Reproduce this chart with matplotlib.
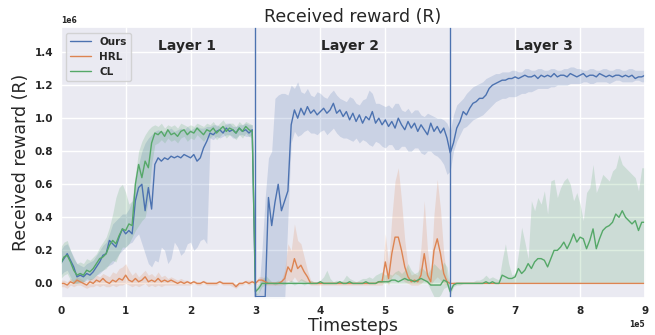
import numpy as np
import matplotlib
matplotlib.use("Agg")
import matplotlib.pyplot as plt
import seaborn as sns

# Rewards are written in millions (x 1e6); one sample every 5,000 timesteps.
timesteps = np.arange(0, 900001, 5000)

ours_mean = [
    0.12, 0.15, 0.18, 0.14, 0.10, 0.04, 0.05, 0.04, 0.06, 0.05, 0.07, 0.10, 0.13, 0.17, 0.18, 0.26, 0.24, 0.22, 0.28, 0.33,
    0.30, 0.32, 0.30, 0.50, 0.58, 0.60, 0.44, 0.58, 0.45, 0.72, 0.76, 0.74, 0.76, 0.75, 0.77, 0.76, 0.77, 0.76, 0.78, 0.77,
    0.76, 0.78, 0.74, 0.76, 0.82, 0.86, 0.91, 0.90, 0.92, 0.93, 0.91, 0.94, 0.92, 0.93, 0.91, 0.94, 0.92, 0.93, 0.91, 0.93,
    -0.08, -0.08, -0.08, -0.08, 0.52, 0.35, 0.49, 0.60, 0.44, 0.50, 0.56, 0.96, 1.05, 1.00, 1.06, 1.02, 1.07, 1.03, 1.05, 1.02,
    1.04, 1.06, 1.03, 1.05, 1.09, 1.03, 1.05, 1.01, 1.04, 0.99, 1.03, 0.98, 1.02, 0.97, 1.01, 0.99, 1.04, 0.97, 1.00, 0.96,
    0.99, 0.95, 0.98, 0.94, 1.00, 0.96, 0.93, 0.98, 0.94, 0.97, 0.92, 0.96, 0.93, 0.90, 0.97, 0.92, 0.95, 0.91, 0.94, 0.88,
    0.79, 0.85, 0.94, 0.98, 1.04, 1.02, 1.06, 1.09, 1.10, 1.12, 1.12, 1.14, 1.18, 1.20, 1.21, 1.22, 1.23, 1.23, 1.24, 1.24,
    1.25, 1.24, 1.25, 1.26, 1.25, 1.25, 1.26, 1.24, 1.26, 1.25, 1.26, 1.25, 1.27, 1.25, 1.26, 1.26, 1.25, 1.27, 1.26, 1.25,
    1.26, 1.27, 1.25, 1.26, 1.26, 1.25, 1.27, 1.26, 1.25, 1.26, 1.25, 1.26, 1.26, 1.25, 1.26, 1.25, 1.26, 1.24, 1.25, 1.25,
    1.26,
]
ours_lo = [
    0.05, 0.07, 0.08, 0.04, 0.00, 0.00, 0.00, 0.01, 0.02, 0.02, 0.03, 0.05, 0.06, 0.08, 0.10, 0.11, 0.12, 0.15, 0.18, 0.20,
    0.22, 0.24, 0.25, 0.28, 0.30, 0.24, 0.18, 0.12, 0.10, 0.14, 0.13, 0.22, 0.20, 0.12, 0.15, 0.25, 0.22, 0.17, 0.19, 0.24,
    0.25, 0.20, 0.22, 0.26, 0.27, 0.24, 0.88, 0.87, 0.89, 0.88, 0.89, 0.90, 0.90, 0.88, 0.88, 0.90, 0.90, 0.89, 0.89, 0.90,
    -0.09, -0.09, -0.09, -0.10, -0.10, -0.10, -0.10, -0.10, -0.10, -0.10, 0.40, 0.85, 0.92, 0.89, 0.90, 0.92, 0.93, 0.91, 0.91, 0.90,
    0.92, 0.93, 0.90, 0.92, 0.94, 0.91, 0.89, 0.88, 0.88, 0.87, 0.86, 0.88, 0.85, 0.87, 0.86, 0.84, 0.83, 0.86, 0.85, 0.83,
    0.82, 0.84, 0.84, 0.81, 0.81, 0.83, 0.83, 0.80, 0.80, 0.82, 0.82, 0.79, 0.78, 0.80, 0.80, 0.78, 0.77, 0.75, 0.72, 0.66,
    0.68, 0.80, 0.86, 0.90, 0.94, 0.95, 0.97, 0.99, 1.00, 1.01, 1.02, 1.04, 1.06, 1.08, 1.10, 1.11, 1.12, 1.12, 1.13, 1.13,
    1.13, 1.14, 1.15, 1.15, 1.16, 1.16, 1.17, 1.18, 1.18, 1.18, 1.18, 1.19, 1.19, 1.20, 1.20, 1.20, 1.20, 1.21, 1.21, 1.21,
    1.21, 1.22, 1.22, 1.21, 1.21, 1.22, 1.22, 1.22, 1.22, 1.21, 1.22, 1.23, 1.23, 1.22, 1.22, 1.22, 1.22, 1.23, 1.23, 1.22,
    1.22,
]
ours_hi = [
    0.20, 0.23, 0.24, 0.20, 0.16, 0.12, 0.11, 0.10, 0.12, 0.13, 0.14, 0.17, 0.20, 0.23, 0.25, 0.30, 0.36, 0.38, 0.40, 0.42,
    0.42, 0.45, 0.50, 0.62, 0.72, 0.80, 0.85, 0.88, 0.90, 0.92, 0.93, 0.92, 0.92, 0.93, 0.94, 0.92, 0.93, 0.94, 0.93, 0.95,
    0.93, 0.94, 0.95, 0.94, 0.94, 0.95, 0.95, 0.96, 0.96, 0.95, 0.95, 0.97, 0.97, 0.95, 0.95, 0.96, 0.96, 0.97, 0.96, 0.96,
    -0.06, -0.06, 0.20, 0.52, 0.76, 0.80, 1.12, 1.14, 1.15, 1.15, 1.14, 1.20, 1.18, 1.22, 1.16, 1.15, 1.18, 1.14, 1.13, 1.16,
    1.15, 1.13, 1.12, 1.15, 1.17, 1.14, 1.12, 1.11, 1.10, 1.13, 1.12, 1.09, 1.08, 1.11, 1.12, 1.17, 1.15, 1.09, 1.09, 1.08,
    1.07, 1.08, 1.06, 1.09, 1.09, 1.05, 1.04, 1.06, 1.03, 1.05, 1.05, 1.02, 1.01, 1.03, 1.02, 1.01, 1.00, 1.00, 0.99, 0.97,
    0.92, 1.02, 1.08, 1.10, 1.12, 1.15, 1.17, 1.19, 1.20, 1.21, 1.22, 1.24, 1.25, 1.26, 1.27, 1.27, 1.28, 1.28, 1.28, 1.29,
    1.29, 1.28, 1.28, 1.30, 1.30, 1.29, 1.29, 1.30, 1.30, 1.29, 1.29, 1.30, 1.30, 1.29, 1.29, 1.30, 1.30, 1.31, 1.31, 1.30,
    1.30, 1.29, 1.29, 1.30, 1.30, 1.29, 1.29, 1.30, 1.30, 1.29, 1.29, 1.30, 1.30, 1.29, 1.29, 1.30, 1.30, 1.29, 1.29, 1.29,
    1.29,
]

hrl_mean = [
    0.00, 0.00, -0.01, 0.01, 0.00, 0.02, 0.01, 0.00, -0.01, 0.01, 0.00, 0.02, 0.01, 0.03, 0.01, 0.00, 0.02, 0.01, 0.03, 0.02,
    0.05, 0.02, 0.01, 0.03, 0.01, 0.02, 0.04, 0.01, 0.02, 0.01, 0.03, 0.01, 0.02, 0.01, 0.02, 0.01, 0.00, 0.01, 0.00, 0.01,
    0.00, 0.01, 0.00, 0.00, 0.01, 0.00, 0.00, 0.00, 0.00, 0.01, 0.00, 0.00, 0.00, 0.00, -0.02, 0.00, 0.00, 0.01, 0.00, 0.01,
    0.00, 0.02, 0.02, 0.01, 0.00, 0.00, 0.00, 0.00, 0.01, 0.03, 0.10, 0.07, 0.15, 0.09, 0.11, 0.07, 0.04, 0.00, 0.00, 0.00,
    0.00, 0.00, 0.00, 0.00, 0.00, 0.00, 0.00, 0.00, 0.00, 0.00, 0.00, 0.00, 0.00, 0.00, 0.00, 0.00, 0.00, 0.00, 0.01, 0.01,
    0.13, 0.03, 0.18, 0.28, 0.28, 0.20, 0.10, 0.04, 0.01, 0.02, 0.01, 0.05, 0.18, 0.05, 0.01, 0.20, 0.27, 0.18, 0.06, 0.01,
    0.00, 0.00, 0.00, 0.00, 0.00, 0.00, 0.00, 0.00, 0.00, 0.00, 0.00, 0.00, 0.00, 0.00, 0.00, 0.00, 0.00, 0.00, 0.00, 0.00,
    0.00, 0.00, 0.00, 0.00, 0.00, 0.00, 0.00, 0.00, 0.00, 0.00, 0.00, 0.00, 0.00, 0.00, 0.00, 0.00, 0.00, 0.00, 0.00, 0.00,
    0.00, 0.00, 0.00, 0.00, 0.00, 0.00, 0.00, 0.00, 0.00, 0.00, 0.00, 0.00, 0.00, 0.00, 0.00, 0.00, 0.00, 0.00, 0.00, 0.00,
    0.00,
]
hrl_lo = [
    -0.02, -0.02, -0.03, -0.01, -0.02, -0.01, -0.01, -0.02, -0.03, -0.02, -0.02, -0.01, -0.02, -0.01, -0.02, -0.02, -0.01, -0.02, -0.01, -0.01,
    0.00, -0.01, -0.02, -0.01, -0.02, -0.01, 0.00, -0.02, -0.01, -0.02, -0.01, -0.02, -0.01, -0.01, -0.01, -0.01, -0.01, -0.01, -0.01, -0.01,
    -0.01, 0.00, -0.01, -0.01, 0.00, -0.01, -0.01, -0.01, -0.01, 0.00, -0.01, -0.01, -0.01, -0.02, -0.03, -0.01, -0.01, 0.00, -0.01, 0.00,
    -0.01, 0.00, 0.00, -0.01, -0.01, -0.01, -0.01, -0.01, -0.01, 0.00, 0.02, 0.01, 0.04, 0.01, 0.02, 0.01, 0.00, -0.01, -0.01, -0.01,
    -0.01, -0.01, -0.01, -0.01, -0.01, -0.01, -0.01, -0.01, -0.01, -0.01, -0.01, -0.01, -0.01, -0.01, -0.01, -0.01, -0.01, -0.01, -0.01, -0.01,
    0.02, -0.01, 0.04, 0.06, 0.05, 0.03, 0.01, 0.00, -0.01, -0.01, -0.01, 0.00, 0.02, 0.00, -0.01, 0.02, 0.04, 0.02, 0.00, -0.01,
    0.00, 0.00, 0.00, 0.00, 0.00, 0.00, 0.00, 0.00, 0.00, 0.00, 0.00, 0.00, 0.00, 0.00, 0.00, 0.00, 0.00, 0.00, 0.00, 0.00,
    0.00, 0.00, 0.00, 0.00, 0.00, 0.00, 0.00, 0.00, 0.00, 0.00, 0.00, 0.00, 0.00, 0.00, 0.00, 0.00, 0.00, 0.00, 0.00, 0.00,
    0.00, 0.00, 0.00, 0.00, 0.00, 0.00, 0.00, 0.00, 0.00, 0.00, 0.00, 0.00, 0.00, 0.00, 0.00, 0.00, 0.00, 0.00, 0.00, 0.00,
    0.00,
]
hrl_hi = [
    0.02, 0.02, 0.01, 0.03, 0.02, 0.04, 0.03, 0.02, 0.01, 0.03, 0.03, 0.05, 0.04, 0.06, 0.05, 0.04, 0.07, 0.06, 0.09, 0.10,
    0.12, 0.08, 0.05, 0.07, 0.04, 0.06, 0.08, 0.05, 0.06, 0.04, 0.07, 0.04, 0.05, 0.03, 0.04, 0.03, 0.02, 0.03, 0.02, 0.02,
    0.01, 0.02, 0.01, 0.01, 0.02, 0.01, 0.01, 0.01, 0.01, 0.02, 0.01, 0.01, 0.01, 0.01, 0.00, 0.01, 0.01, 0.02, 0.02, 0.02,
    0.01, 0.04, 0.04, 0.03, 0.01, 0.01, 0.01, 0.01, 0.02, 0.08, 0.24, 0.20, 0.36, 0.26, 0.24, 0.16, 0.08, 0.02, 0.01, 0.01,
    0.01, 0.01, 0.01, 0.01, 0.01, 0.01, 0.01, 0.01, 0.01, 0.01, 0.01, 0.01, 0.01, 0.01, 0.01, 0.01, 0.01, 0.01, 0.02, 0.03,
    0.30, 0.12, 0.40, 0.62, 0.70, 0.50, 0.26, 0.10, 0.05, 0.06, 0.05, 0.22, 0.50, 0.20, 0.06, 0.42, 0.63, 0.45, 0.18, 0.04,
    0.00, 0.00, 0.00, 0.00, 0.00, 0.00, 0.00, 0.00, 0.00, 0.00, 0.00, 0.00, 0.00, 0.00, 0.00, 0.00, 0.00, 0.00, 0.00, 0.00,
    0.00, 0.00, 0.00, 0.00, 0.00, 0.00, 0.00, 0.00, 0.00, 0.00, 0.00, 0.00, 0.00, 0.00, 0.00, 0.00, 0.00, 0.00, 0.00, 0.00,
    0.00, 0.00, 0.00, 0.00, 0.00, 0.00, 0.00, 0.00, 0.00, 0.00, 0.00, 0.00, 0.00, 0.00, 0.00, 0.00, 0.00, 0.00, 0.00, 0.00,
    0.00,
]

cl_mean = [
    0.12, 0.16, 0.17, 0.13, 0.08, 0.05, 0.06, 0.05, 0.08, 0.07, 0.09, 0.12, 0.15, 0.16, 0.18, 0.23, 0.26, 0.24, 0.29, 0.33,
    0.32, 0.36, 0.35, 0.60, 0.72, 0.64, 0.74, 0.70, 0.85, 0.91, 0.90, 0.92, 0.89, 0.93, 0.90, 0.91, 0.89, 0.92, 0.93, 0.90,
    0.92, 0.91, 0.94, 0.92, 0.90, 0.93, 0.92, 0.94, 0.91, 0.93, 0.95, 0.92, 0.94, 0.93, 0.91, 0.94, 0.92, 0.95, 0.93, 0.92,
    -0.05, -0.03, 0.00, 0.00, 0.00, 0.00, 0.00, 0.00, 0.00, 0.00, 0.00, 0.00, 0.00, 0.00, 0.00, 0.00, 0.00, 0.00, 0.00, 0.00,
    0.01, 0.00, 0.00, 0.00, 0.00, 0.00, 0.01, 0.00, 0.00, 0.01, 0.00, 0.00, 0.00, 0.00, 0.01, 0.00, 0.00, 0.00, 0.01, 0.01,
    0.01, 0.01, 0.02, 0.02, 0.01, 0.02, 0.03, 0.02, 0.02, 0.01, 0.02, 0.03, 0.02, 0.01, -0.01, -0.01, -0.01, -0.01, 0.02, 0.01,
    -0.05, -0.01, 0.00, 0.00, 0.00, 0.00, 0.00, 0.00, 0.00, 0.00, 0.00, 0.01, 0.00, 0.01, 0.00, 0.00, 0.05, 0.04, 0.03, 0.03,
    0.04, 0.09, 0.06, 0.08, 0.12, 0.09, 0.13, 0.15, 0.15, 0.14, 0.10, 0.15, 0.20, 0.20, 0.22, 0.25, 0.21, 0.25, 0.30, 0.25,
    0.28, 0.27, 0.21, 0.26, 0.33, 0.21, 0.27, 0.32, 0.34, 0.35, 0.37, 0.42, 0.40, 0.44, 0.40, 0.38, 0.36, 0.38, 0.32, 0.37,
    0.37,
]
cl_lo = [
    0.03, 0.05, 0.06, 0.02, 0.00, 0.00, 0.01, 0.01, 0.03, 0.02, 0.03, 0.05, 0.07, 0.08, 0.09, 0.12, 0.14, 0.13, 0.18, 0.22,
    0.22, 0.24, 0.28, 0.32, 0.35, 0.38, 0.40, 0.50, 0.72, 0.84, 0.85, 0.87, 0.85, 0.88, 0.86, 0.87, 0.85, 0.88, 0.89, 0.86,
    0.88, 0.87, 0.90, 0.88, 0.86, 0.89, 0.88, 0.90, 0.87, 0.89, 0.91, 0.88, 0.90, 0.89, 0.87, 0.90, 0.88, 0.91, 0.89, 0.88,
    -0.07, -0.06, -0.02, -0.01, 0.00, 0.00, -0.01, 0.00, 0.00, -0.01, 0.00, 0.00, -0.01, 0.00, 0.00, -0.01, 0.00, 0.00, 0.00, 0.00,
    0.00, 0.00, 0.00, 0.00, 0.00, 0.00, 0.00, 0.00, 0.00, 0.00, 0.00, 0.00, 0.00, 0.00, 0.00, 0.00, 0.00, 0.00, 0.00, 0.00,
    0.00, 0.00, 0.00, 0.00, 0.00, 0.00, 0.00, 0.00, 0.00, 0.00, 0.00, 0.00, 0.00, 0.00, -0.04, -0.08, -0.09, -0.07, -0.03, -0.02,
    -0.07, -0.02, -0.01, -0.01, 0.00, 0.00, 0.00, 0.00, 0.00, 0.00, 0.00, 0.00, 0.00, 0.00, 0.00, 0.00, 0.00, 0.00, 0.00, 0.00,
    0.00, 0.00, 0.00, 0.00, 0.00, 0.00, 0.00, 0.00, 0.00, 0.00, 0.00, 0.00, 0.00, 0.00, 0.00, 0.00, 0.00, 0.00, 0.00, 0.00,
    0.00, 0.00, 0.00, 0.00, 0.00, 0.00, 0.00, 0.00, 0.00, 0.00, 0.00, 0.00, 0.00, 0.00, 0.00, 0.00, 0.00, 0.00, 0.00, 0.00,
    0.00,
]
cl_hi = [
    0.22, 0.25, 0.26, 0.20, 0.15, 0.12, 0.13, 0.12, 0.15, 0.14, 0.16, 0.18, 0.22, 0.25, 0.28, 0.34, 0.42, 0.52, 0.58, 0.60,
    0.55, 0.48, 0.50, 0.66, 0.80, 0.86, 0.90, 0.93, 0.95, 0.96, 0.95, 0.97, 0.94, 0.96, 0.95, 0.96, 0.94, 0.97, 0.96, 0.95,
    0.96, 0.95, 0.97, 0.96, 0.95, 0.97, 0.96, 0.98, 0.95, 0.97, 0.99, 0.96, 0.97, 0.97, 0.95, 0.98, 0.96, 0.98, 0.97, 0.96,
    -0.03, 0.00, 0.02, 0.05, 0.03, 0.01, 0.01, 0.02, 0.01, 0.01, 0.01, 0.02, 0.01, 0.01, 0.03, 0.02, 0.01, 0.02, 0.01, 0.01,
    0.02, 0.04, 0.08, 0.03, 0.01, 0.02, 0.01, 0.02, 0.05, 0.03, 0.02, 0.01, 0.02, 0.03, 0.03, 0.04, 0.03, 0.05, 0.06, 0.07,
    0.05, 0.06, 0.05, 0.07, 0.08, 0.06, 0.08, 0.12, 0.08, 0.06, 0.07, 0.10, 0.08, 0.06, 0.09, 0.12, 0.10, 0.08, 0.13, 0.10,
    -0.02, 0.01, 0.01, 0.01, 0.01, 0.01, 0.01, 0.01, 0.02, 0.02, 0.03, 0.05, 0.03, 0.04, 0.03, 0.02, 0.14, 0.24, 0.12, 0.05,
    0.06, 0.18, 0.34, 0.25, 0.15, 0.50, 0.44, 0.52, 0.48, 0.56, 0.42, 0.62, 0.63, 0.52, 0.58, 0.62, 0.64, 0.60, 0.50, 0.55,
    0.48, 0.38, 0.55, 0.58, 0.72, 0.55, 0.60, 0.66, 0.64, 0.62, 0.68, 0.70, 0.78, 0.72, 0.70, 0.68, 0.66, 0.64, 0.56, 0.70,
    0.70,
]

series_names = ["Ours", "HRL", "CL"]
layer_names = ["Layer 1", "Layer 2", "Layer 3"]
layer_label_x = [1.95e5, 4.45e5, 7.45e5]
layer_boundaries = [3e5, 6e5]

sns.set_theme(style="darkgrid")
plt.rcParams["font.family"] = ["DejaVu Sans"]
palette = sns.color_palette("deep")
c_ours, c_hrl, c_cl = palette[0], palette[1], palette[2]

fig = plt.figure(figsize=(6.55, 3.35), dpi=100)
ax = fig.add_axes([0.0927, 0.1096, 0.892, 0.8089])

scale = 1e6
groups = [
    (ours_mean, ours_lo, ours_hi, c_ours, series_names[0]),
    (hrl_mean, hrl_lo, hrl_hi, c_hrl, series_names[1]),
    (cl_mean, cl_lo, cl_hi, c_cl, series_names[2]),
]
for mean, lo, hi, color, name in groups:
    ax.fill_between(timesteps, np.array(lo) * scale, np.array(hi) * scale,
                    color=color, alpha=0.2, linewidth=0)
for mean, lo, hi, color, name in groups:
    ax.plot(timesteps, np.array(mean) * scale, color=color, lw=1.0, label=name)

for xb in layer_boundaries:
    ax.axvline(xb, color=c_ours, lw=1.0)

for name, lx in zip(layer_names, layer_label_x):
    ax.text(lx, 1.435e6, name, ha="center", va="center",
            fontsize=10, fontweight="bold", color="#262626")

ax.set_xlim(0, 9e5)
ax.set_ylim(-0.09e6, 1.55e6)
ax.set_xticks(np.arange(0, 9e5 + 1, 1e5))
ax.set_yticks(np.arange(0, 1.41e6, 0.2e6))
ax.ticklabel_format(axis="both", style="sci", scilimits=(0, 0))

ax.set_title("Received reward (R)", fontsize=12.5, pad=4)
ax.set_xlabel("Timesteps", fontsize=12.5, labelpad=1)
ax.set_ylabel("Received reward (R)", fontsize=12.5, labelpad=3)

ax.tick_params(axis="both", labelsize=7.5, length=0, pad=5.5)
for lbl in ax.get_xticklabels() + ax.get_yticklabels():
    lbl.set_fontweight("bold")
for off in (ax.xaxis.get_offset_text(), ax.yaxis.get_offset_text()):
    off.set_fontsize(5.5)
    off.set_fontweight("bold")

ax.legend(loc="upper left", prop={"weight": "bold", "size": 7.5},
          handlelength=2.0, borderaxespad=0.5)

fig.savefig("out.png", dpi=100)
